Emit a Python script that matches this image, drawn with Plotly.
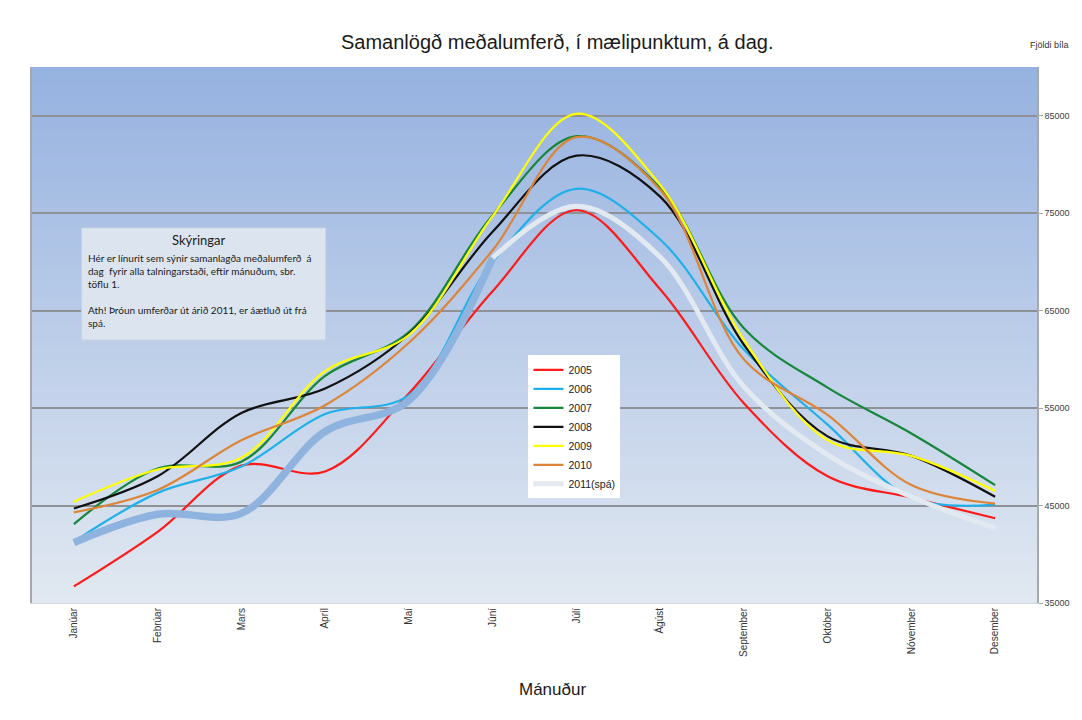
import plotly.graph_objects as go

# Months on the category axis
months = ["Janúar", "Febrúar", "Mars", "Apríl", "Maí", "Júní", "Júlí",
          "Ágúst", "September", "Október", "Nóvember", "Desember"]

# Average daily traffic summed over counting points (vehicles per day)
y2005 = [36700, 42300, 49100, 48500, 56500, 67000, 75300, 67200, 55500, 48000, 45800, 43700]
y2006 = [41300, 46300, 49000, 54400, 56300, 70000, 77500, 72300, 61000, 53300, 45800, 45100]
y2007 = [43100, 48800, 49500, 58300, 62800, 74800, 82900, 77600, 63200, 57100, 52400, 47100]
y2008 = [44700, 48000, 54500, 57000, 62600, 73100, 80900, 76700, 61500, 52100, 50100, 45900]
y2009 = [45400, 48700, 49900, 58800, 62500, 74700, 85200, 77900, 62000, 51700, 50100, 46500]
y2010 = [44300, 46600, 51700, 55300, 61700, 71200, 82800, 77400, 60000, 54300, 47100, 45200]
y2011 = [41200, 44100, 44200, 52600, 55800, 70400, 75700, 70500, 57200, 50200, 45900, 42700]

# 2011: measured months up to Júní, forecast from Júní onward
measured_end = 6

y_ticks = [35000, 45000, 55000, 65000, 75000, 85000]

series = [
    ("2005", y2005, "#ff1a1a"),
    ("2006", y2006, "#1fb0ea"),
    ("2007", y2007, "#17853a"),
    ("2008", y2008, "#111111"),
    ("2009", y2009, "#ffff00"),
    ("2010", y2010, "#dc8538"),
]

fig = go.Figure()
for name, vals, col in series:
    fig.add_trace(go.Scatter(
        x=months, y=vals, name=name, mode="lines",
        line=dict(color=col, width=2.2, shape="spline", smoothing=1.0),
    ))

fig.add_trace(go.Scatter(
    x=months[:measured_end], y=y2011[:measured_end], name="2011(spá)",
    mode="lines", showlegend=False,
    line=dict(color="#8fb3df", width=7.5, shape="spline", smoothing=1.0),
))
fig.add_trace(go.Scatter(
    x=months[measured_end - 1:], y=y2011[measured_end - 1:], name="2011(spá)",
    mode="lines",
    line=dict(color="#e3e9f1", width=5, shape="spline", smoothing=1.0),
))

# Vertical gradient background for the plot area
shapes = []
n = 90
top = (150, 178, 224)
bottom = (225, 232, 241)
for i in range(n):
    t = i / (n - 1)
    c = tuple(round(top[k] + (bottom[k] - top[k]) * t) for k in range(3))
    shapes.append(dict(
        type="rect", xref="paper", yref="paper",
        x0=0, x1=1, y1=1 - i / n, y0=max(0, 1 - (i + 1) / n - 0.002),
        fillcolor=f"rgb{c}", line=dict(width=0), layer="below",
    ))

# Explanation box
shapes.append(dict(
    type="rect", xref="paper", yref="paper",
    x0=0.0494, x1=0.2922, y0=0.4907, y1=0.6996,
    fillcolor="#dce5ef", line=dict(color="#c9d3df", width=1), layer="above",
))

annotations = [
    dict(text="Skýringar", xref="paper", yref="paper", x=0.1658, y=0.677,
         xanchor="center", yanchor="middle", showarrow=False,
         font=dict(family="Lato", size=13, color="#1a1a1a")),
    dict(text=("Hér er línurit sem sýnir samanlagða meðalumferð  á<br>"
               "dag  fyrir alla talningarstaði, eftir mánuðum, sbr.<br>"
               "töflu 1.<br><br>"
               "Ath! Þróun umferðar út árið 2011, er áætluð út frá<br>"
               "spá."),
         xref="paper", yref="paper", x=0.054, y=0.658,
         xanchor="left", yanchor="top", align="left", showarrow=False,
         font=dict(family="Lato", size=10, color="#1a1a1a")),
    dict(text="Mánuður", xref="paper", yref="paper", x=0.518, y=-0.162,
         xanchor="center", yanchor="middle", showarrow=False,
         font=dict(family="Liberation Sans", size=17, color="#1a1a1a")),
    dict(text="Fjöldi bíla", xref="paper", yref="paper", x=1.012, y=1.041,
         xanchor="center", yanchor="middle", showarrow=False,
         font=dict(family="Liberation Sans", size=9, color="#333333")),
]

fig.update_layout(
    width=1082, height=720,
    margin=dict(l=32, r=37, t=67, b=117),
    paper_bgcolor="white", plot_bgcolor="#c0d0e6",
    title=dict(text="Samanlögð meðalumferð, í mælipunktum, á dag.",
               x=0.515, xref="container", xanchor="center",
               y=0.942, yref="container", yanchor="middle",
               font=dict(family="Liberation Sans", size=20, color="#1a1a1a")),
    shapes=shapes, annotations=annotations,
    showlegend=True,
    legend=dict(x=0.494, y=0.462, xanchor="left", yanchor="top",
                bgcolor="white", borderwidth=0,
                font=dict(family="Liberation Sans", size=10.5, color="#1a1a1a"),
                itemwidth=30, tracegroupgap=0),
)

fig.update_xaxes(
    type="category", categoryorder="array", categoryarray=months,
    range=[-0.5, 11.5], tickangle=-90, showgrid=False,
    tickfont=dict(family="Liberation Sans", size=10, color="#333333"),
    showline=True, linecolor="#cdd6e2", linewidth=1, ticks="",
)
fig.update_yaxes(
    side="right", range=[35000, 90000], tickvals=y_ticks,
    tickformat="d", showgrid=True, gridcolor="#8e9196", gridwidth=1.5,
    zeroline=False,
    tickfont=dict(family="Liberation Sans", size=9, color="#404040"),
    showline=True, linecolor="#a4a9b0", linewidth=1.5, mirror=True,
    ticks="outside", ticklen=4, tickcolor="#a4a9b0",
)

fig.write_html("out.html")
